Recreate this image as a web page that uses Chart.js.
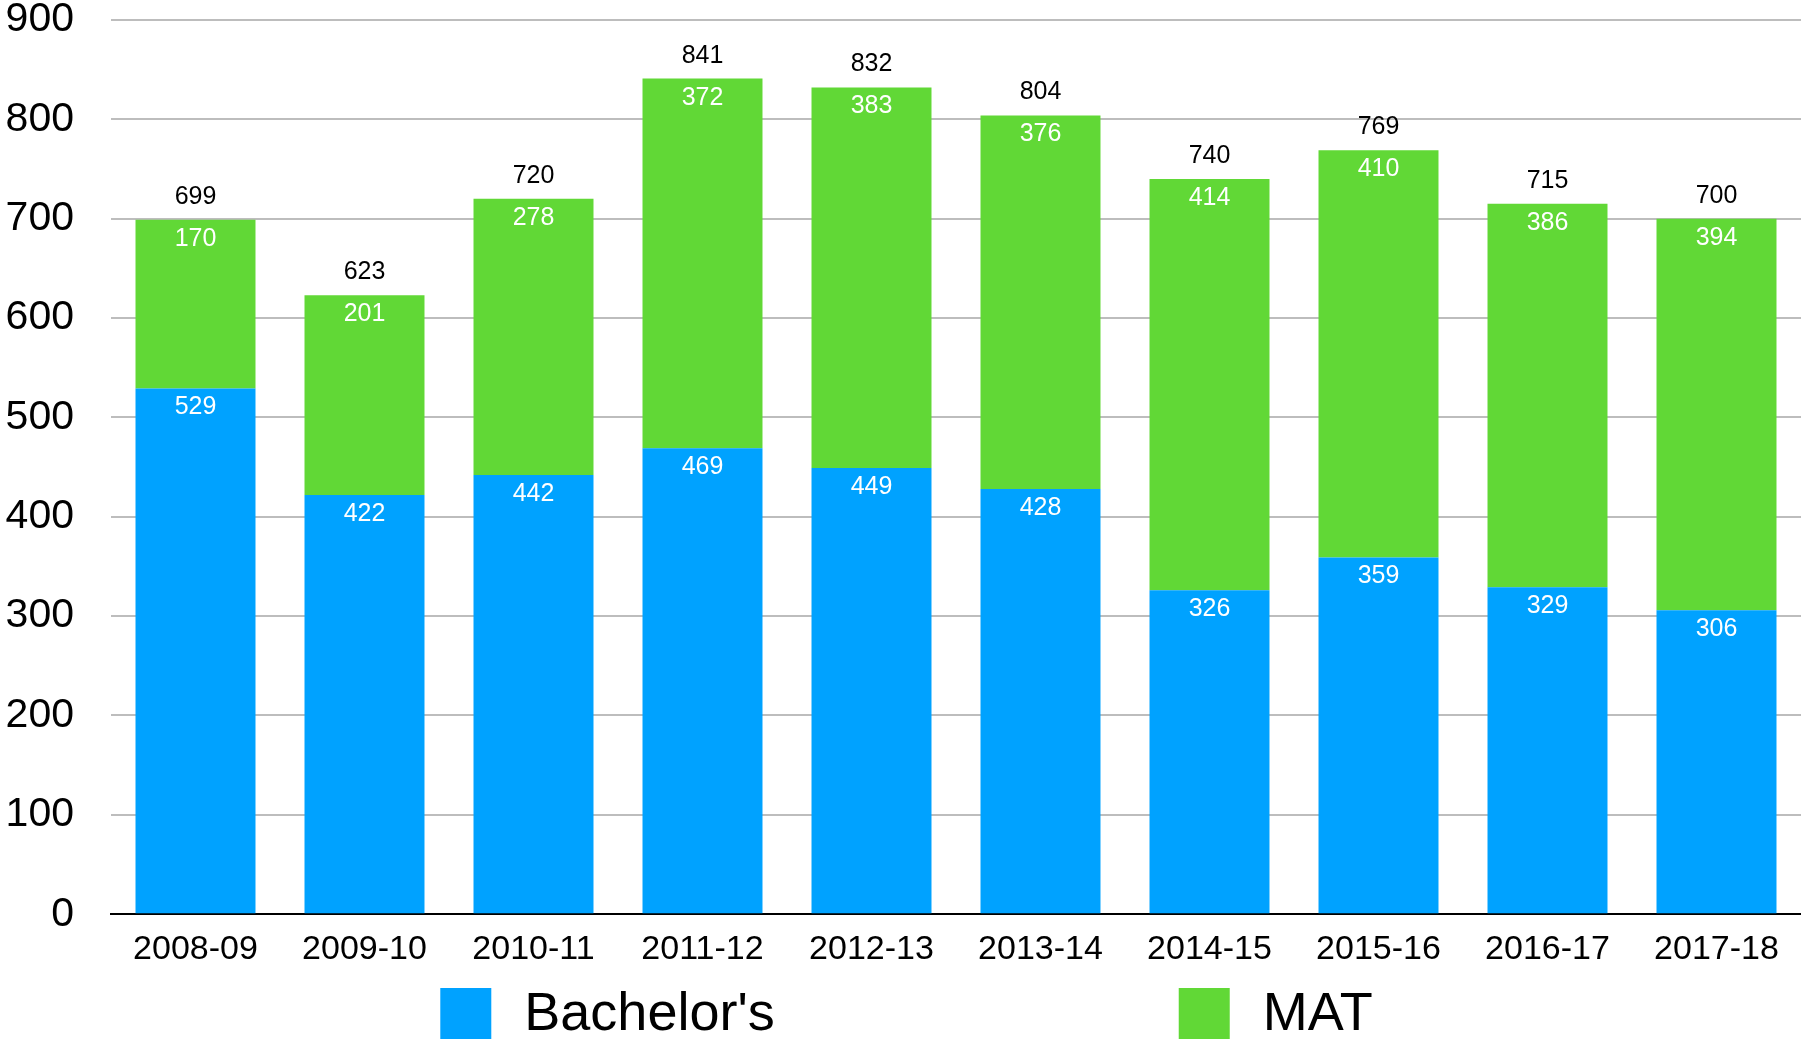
<!DOCTYPE html>
<html>
<head>
<meta charset="utf-8">
<script src="https://cdn.jsdelivr.net/npm/chart.js@4/dist/chart.umd.min.js"></script>
<style>
  html, body { margin: 0; padding: 0; background: #fff; }
  #wrap { width: 1801px; height: 1045px; }
</style>
</head>
<body>
<div id="wrap"><canvas id="chart" width="1801" height="1045"></canvas></div>
<script>
// --- data ---
const years = ['2008-09', '2009-10', '2010-11', '2011-12', '2012-13', '2013-14', '2014-15', '2015-16', '2016-17', '2017-18'];
const bachelors = [529, 422, 442, 469, 449, 428, 326, 359, 329, 306];
const mat = [170, 201, 278, 372, 383, 376, 414, 410, 386, 394];
const yTicks = [0, 100, 200, 300, 400, 500, 600, 700, 800, 900];

const BLUE = '#00a2ff';
const GREEN = '#61d836';
const FONT = '"Liberation Sans", Arial, Helvetica, sans-serif';

// value labels inside the segments + totals on top
const valueLabels = {
    id: 'valueLabels',
    afterDatasetsDraw(chart) {
        const ctx = chart.ctx;
        ctx.save();
        ctx.textAlign = 'center';
        ctx.textBaseline = 'middle';
        ctx.font = '25px ' + FONT;
        chart.data.datasets.forEach((ds, i) => {
            const meta = chart.getDatasetMeta(i);
            meta.data.forEach((bar, j) => {
                ctx.fillStyle = '#fff';
                ctx.fillText(String(ds.data[j]), bar.x, bar.y + 19);
            });
        });
        // totals above the top segment
        const topMeta = chart.getDatasetMeta(chart.data.datasets.length - 1);
        topMeta.data.forEach((bar, j) => {
            const total = bachelors[j] + mat[j];
            ctx.fillStyle = '#000';
            ctx.fillText(String(total), bar.x, bar.y - 23);
        });
        ctx.restore();
    }
};

// legend drawn under the axis, two items spread wide
const bottomLegend = {
    id: 'bottomLegend',
    afterDraw(chart) {
        const ctx = chart.ctx;
        const box = 51, gap = 33, itemGap = 404;
        const y = 988;
        ctx.save();
        ctx.font = '54px ' + FONT;
        ctx.textBaseline = 'middle';
        ctx.textAlign = 'left';
        const items = chart.data.datasets.map(ds => ({
            text: ds.label, color: ds.backgroundColor,
            w: box + gap + ctx.measureText(ds.label).width
        }));
        const total = items.reduce((s, it) => s + it.w, 0) + itemGap * (items.length - 1);
        let x = (chart.width - total) / 2 + 6;
        items.forEach(it => {
            ctx.fillStyle = it.color;
            ctx.fillRect(x, y, box, box);
            ctx.fillStyle = '#000';
            ctx.fillText(it.text, x + box + gap, y + box / 2 + 2);
            x += it.w + itemGap;
        });
        ctx.restore();
    }
};

new Chart(document.getElementById('chart'), {
    type: 'bar',
    data: {
        labels: years,
        datasets: [
            { label: "Bachelor's", data: bachelors, backgroundColor: BLUE },
            { label: 'MAT', data: mat, backgroundColor: GREEN }
        ]
    },
    options: {
        responsive: false,
        animation: false,
        layout: { padding: { top: 20, right: 0, bottom: 68, left: 0 } },
        datasets: { bar: { barPercentage: 0.71, categoryPercentage: 1.0 } },
        plugins: {
            legend: { display: false },
            tooltip: { enabled: false }
        },
        scales: {
            x: {
                stacked: true,
                grid: { display: false },
                border: { display: true, color: '#000', width: 2 },
                ticks: { color: '#000', font: { family: FONT, size: 34, lineHeight: 1.2 }, padding: 7, maxRotation: 0 }
            },
            y: {
                stacked: true,
                min: 0,
                max: 900,
                afterFit: (scale) => {
                    scale.width = 111;
                    scale.paddingTop = 0;
                    scale.paddingBottom = 0;
                },
                afterBuildTicks: (scale) => { scale.ticks = yTicks.map(v => ({ value: v })); },
                grid: { color: '#bdbdbd', lineWidth: 2, drawTicks: false },
                border: { display: false },
                ticks: { color: '#000', font: { family: FONT, size: 41, lineHeight: 1 }, padding: 37 }
            }
        }
    },
    plugins: [valueLabels, bottomLegend]
});
</script>
</body>
</html>
